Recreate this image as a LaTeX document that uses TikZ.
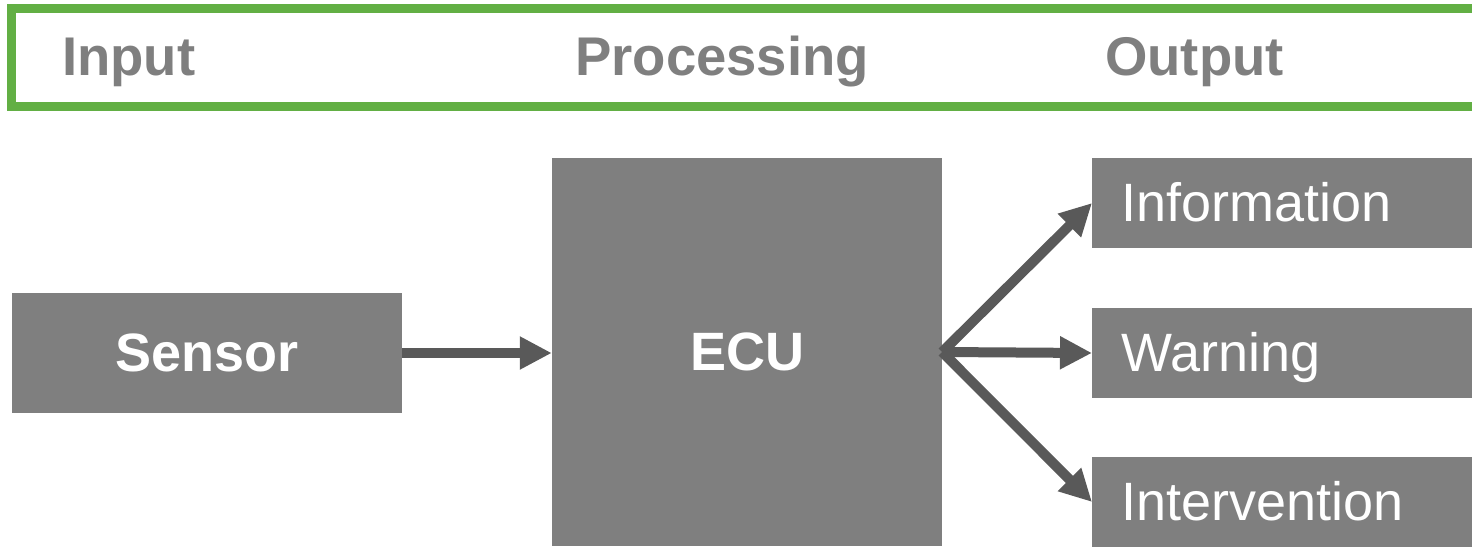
\documentclass[tikz,border=0pt]{standalone}
\usepackage{fontspec}
\setmainfont{Liberation Sans}
\usetikzlibrary{arrows.meta}
\definecolor{boxgray}{HTML}{7F7F7F}
\definecolor{arrowgray}{HTML}{595959}
\definecolor{framegreen}{HTML}{62AF44}

\begin{document}
\begin{tikzpicture}[x=1pt, y=-1pt,
    phase/.style={anchor=base west, inner sep=0pt, text=boxgray,
      font=\fontsize{54.5}{60}\selectfont\bfseries},
    block/.style={fill=boxgray, text=white, inner sep=0pt,
      text height=38pt, text depth=2pt},
    outbox/.style={block, anchor=west, minimum width=420, minimum height=90,
      text width=362, align=left, font=\fontsize{54}{60}\selectfont},
    flow/.style={draw=arrowgray, line width=10pt, -{Triangle[length=32pt, width=31pt]}}
  ]
  \useasboundingbox (0,0) rectangle (1472,547);
  \draw[framegreen, line width=9pt] (1490,8.5) -- (11.5,8.5) -- (11.5,106.5) -- (1490,106.5);
  \node[phase] (input) at (62,75) {Input};
  \node[phase] (processing) at (575,75) {Processing};
  \node[phase] (output) at (1105,75) {Output};

  \node[block, minimum width=390, minimum height=120,
    font=\fontsize{54}{60}\selectfont\bfseries] (sensor) at (207,353) {Sensor};
  \node[block, minimum width=390, minimum height=388,
    font=\fontsize{54}{60}\selectfont\bfseries] (ecu) at (747,352) {ECU};
  \node[outbox] (info) at (1092,203) {Information};
  \node[outbox] (warning) at (1092,353) {Warning};
  \node[outbox] (intervention) at (1092,502) {Intervention};

  \draw[flow] (sensor.east) -- (sensor.east -| ecu.west);
  \draw[flow] (ecu.east) -- (info.west);
  \draw[flow] (ecu.east) -- (warning.west);
  \draw[flow] (ecu.east) -- (intervention.west);
\end{tikzpicture}
\end{document}
